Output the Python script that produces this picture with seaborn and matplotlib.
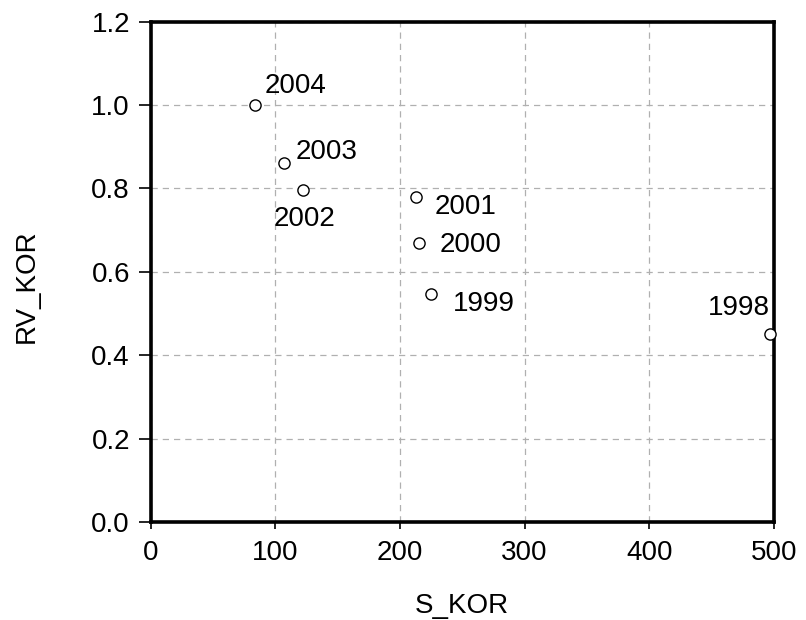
import matplotlib
matplotlib.use("Agg")
import matplotlib.pyplot as plt
import seaborn as sns
import pandas as pd

# values
years = ['1998', '1999', '2000', '2001', '2002', '2003', '2004']
s_kor = [497, 225, 215, 213, 122, 107, 84]
rv_kor = [0.45, 0.547, 0.67, 0.78, 0.797, 0.862, 1.0]

# label offsets in points (dx, dy) and alignment per year
label_pos = {
    '1998': (0, 10, 'right', 'bottom'),
    '1999': (16, -7, 'left', 'center'),
    '2000': (15, -2, 'left', 'center'),
    '2001': (13, -7, 'left', 'center'),
    '2002': (-21, -12, 'left', 'top'),
    '2003': (8, 8, 'left', 'center'),
    '2004': (7, 14, 'left', 'center'),
}

df = pd.DataFrame({'S_KOR': s_kor, 'RV_KOR': rv_kor, 'year': years})

sns.set_style('white')
plt.rcParams['font.family'] = ['Liberation Sans', 'DejaVu Sans']
plt.rcParams['text.color'] = 'black'
fs = 20

fig = plt.figure(figsize=(8.06, 6.2), dpi=100)
ax = fig.add_axes([0.187, 0.158, 0.773, 0.807])

ax.grid(True, color='#b0b0b0', linestyle=(0, (5, 4)), linewidth=0.9)
ax.set_axisbelow(True)

sns.scatterplot(data=df, x='S_KOR', y='RV_KOR', ax=ax, s=65,
                facecolor='white', edgecolor='black', linewidth=1.0,
                zorder=3, clip_on=False)

for _, r in df.iterrows():
    dx, dy, ha, va = label_pos[r['year']]
    ax.annotate(r['year'], (r['S_KOR'], r['RV_KOR']), xytext=(dx, dy),
                textcoords='offset points', ha=ha, va=va, fontsize=fs,
                color='black')

ax.set_xlim(0, 500)
ax.set_ylim(0, 1.2)
ax.set_xticks([0, 100, 200, 300, 400, 500])
ax.set_yticks([0.0, 0.2, 0.4, 0.6, 0.8, 1.0, 1.2])
ax.set_yticklabels(['0.0', '0.2', '0.4', '0.6', '0.8', '1.0', '1.2'])

for sp in ax.spines.values():
    sp.set_visible(True)
    sp.set_color('black')
    sp.set_linewidth(2.6)

ax.tick_params(axis='both', direction='out', width=1.2,
               labelsize=fs, colors='black', bottom=True, left=True)
ax.tick_params(axis='y', length=9, pad=6)
ax.tick_params(axis='x', length=5, pad=8)
ax.set_xlabel('S_KOR', fontsize=fs, color='black')
ax.set_ylabel('RV_KOR', fontsize=fs, color='black')
ax.xaxis.set_label_coords(0.5, -0.142)
ax.yaxis.set_label_coords(-0.178, 0.472)

fig.savefig('out.png', dpi=100)
